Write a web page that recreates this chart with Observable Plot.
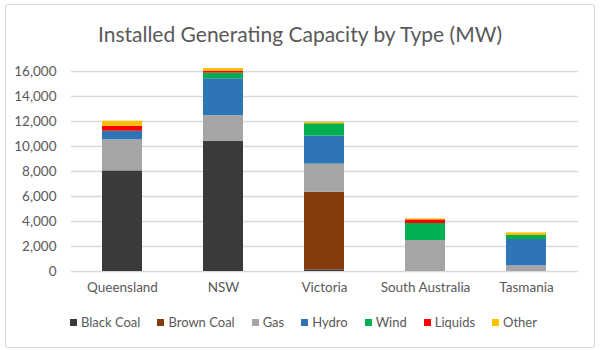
<!DOCTYPE html>
<html>
<head>
<meta charset="utf-8">
<script src="https://cdn.jsdelivr.net/npm/d3@7"></script>
<script src="https://cdn.jsdelivr.net/npm/@observablehq/plot@0.6"></script>
<style>
  html, body { margin: 0; padding: 0; background: #fff; }
  #wrap { position: relative; width: 600px; height: 350px; font-family: Lato, sans-serif; color: #595959; }
  #frame { position: absolute; left: 5px; top: 4px; width: 588px; height: 342px; border: 1px solid #d9d9d9; border-radius: 2px; }
  #title { position: absolute; left: 0; top: 20px; width: 600px; text-align: center; font-size: 21px; line-height: 28px; color: #595959; }
  #chart { position: absolute; left: 0; top: 55px; }
  #legend { position: absolute; left: 70px; top: 313px; display: flex; font-size: 13px; line-height: 18px; color: #595959; }
  .item { display: flex; align-items: center; margin-right: 17px; }
  .sw { width: 7px; height: 7px; margin-right: 4px; }
</style>
</head>
<body>
<div id="wrap">
  <div id="frame"></div>
  <div id="title">Installed Generating Capacity by Type (MW)</div>
  <div id="chart"></div>
  <div id="legend"></div>
</div>
<script>
const states = ["Queensland", "NSW", "Victoria", "South Australia", "Tasmania"];
const types = ["Black Coal", "Brown Coal", "Gas", "Hydro", "Wind", "Liquids", "Other"];
const colors = ["#3a3a3a", "#843c0c", "#a5a5a5", "#2e75b6", "#00b050", "#ff0000", "#ffc000"];

const blackCoal = [8050, 10430, 130, 0, 0];
const brownCoal = [0, 0, 6220, 0, 0];
const gas       = [2480, 2030, 2240, 2480, 450];
const hydro     = [690, 2960, 2240, 0, 2110];
const wind      = [0, 450, 990, 1360, 320];
const liquids   = [400, 160, 0, 290, 0];
const other     = [400, 210, 130, 80, 210];

const yTicks = [0, 2000, 4000, 6000, 8000, 10000, 12000, 14000, 16000];

const series = [blackCoal, brownCoal, gas, hydro, wind, liquids, other];
const rows = [];
types.forEach((t, i) => {
  states.forEach((s, j) => {
    rows.push({state: s, type: t, value: series[i][j]});
  });
});

const plot = Plot.plot({
  width: 600,
  height: 250,
  marginTop: 16,
  marginBottom: 34,
  marginLeft: 71,
  marginRight: 22,
  style: {fontFamily: "Lato, sans-serif", fontSize: "13.5px", color: "#595959", background: "transparent"},
  x: {domain: states, paddingInner: 0.6, paddingOuter: 0.3, label: null},
  y: {domain: [0, 16000], label: null},
  color: {domain: types, range: colors},
  marks: [
    Plot.ruleY(yTicks, {stroke: "#d9d9d9", strokeWidth: 1.3}),
    Plot.barY(rows, {x: "state", y: "value", fill: "type", z: "type"}),
    Plot.axisY({ticks: yTicks, tickFormat: d3.format(","), tickSize: 0, tickPadding: 15, fill: "#595959", fontSize: 13.5}),
    Plot.axisX({tickSize: 0, tickPadding: 11, fill: "#595959", fontSize: 13.5})
  ]
});
document.getElementById("chart").appendChild(plot);

const legend = document.getElementById("legend");
types.forEach((t, i) => {
  const item = document.createElement("div");
  item.className = "item";
  const sw = document.createElement("div");
  sw.className = "sw";
  sw.style.background = colors[i];
  item.appendChild(sw);
  const label = document.createElement("span");
  label.textContent = t;
  item.appendChild(label);
  legend.appendChild(item);
});
</script>
</body>
</html>
